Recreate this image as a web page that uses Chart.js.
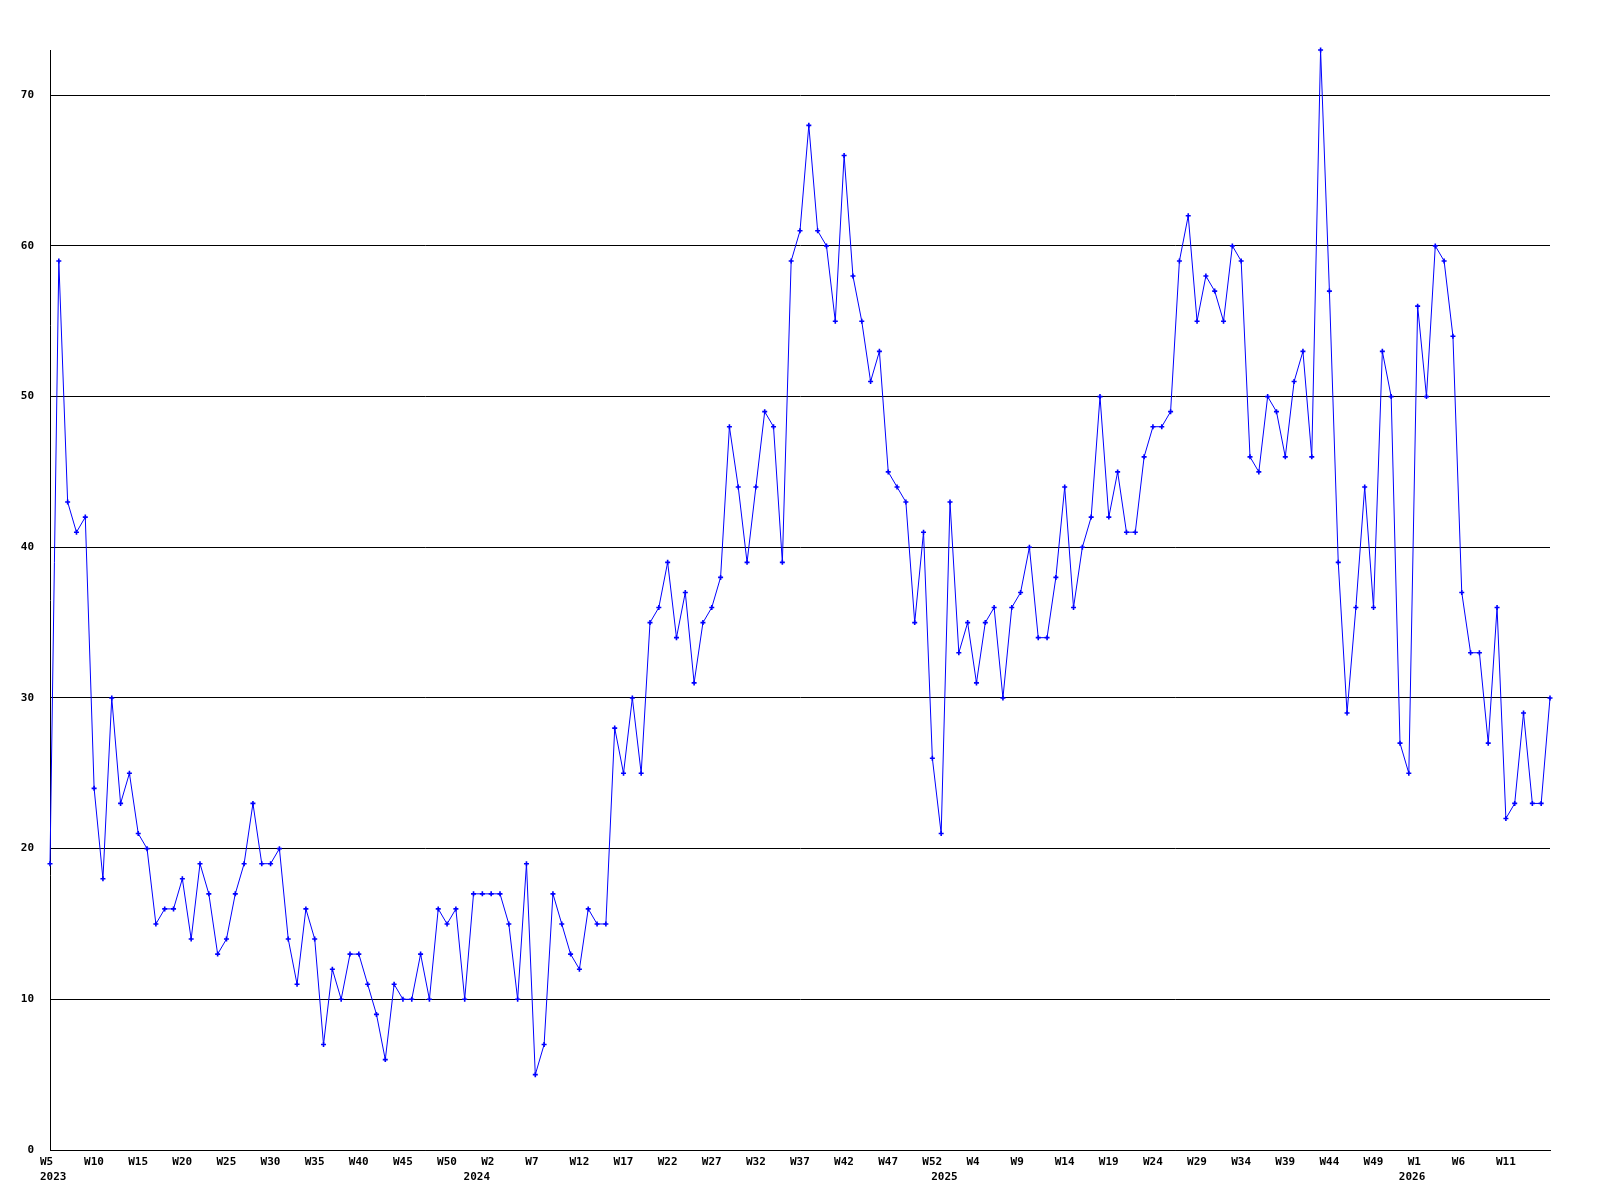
<!DOCTYPE html>
<html>
<head>
<meta charset="utf-8">
<script src="https://cdn.jsdelivr.net/npm/chart.js@4.4.1/dist/chart.umd.min.js"></script>
<style>
html,body{margin:0;padding:0;background:#ffffff;}
canvas{display:block;}
</style>
</head>
<body>
<canvas id="c" width="1600" height="1200"></canvas>
<script>
// Week segments per year (week numbering starts at W0 each new year)
const years = [2023, 2024, 2025, 2026];
const firstWeek = [5, 0, 0, 0];
const lastWeek = [52, 52, 52, 16];

// Weekly values
const values = [
  19,59,43,41,42,24,18,30,23,25,21,20,15,16,16,18,14,19,17,13,14,17,19,23,19,19,20,14,11,
  16,14,7,12,10,13,13,11,9,6,11,10,10,13,10,16,15,16,10,17,17,17,17,15,10,19,5,7,
  17,15,13,12,16,15,15,28,25,30,25,35,36,39,34,37,31,35,36,38,48,44,39,44,49,48,39,59,
  61,68,61,60,55,66,58,55,51,53,45,44,43,35,41,26,21,43,33,35,31,35,36,30,36,37,40,34,34,
  38,44,36,40,42,50,42,45,41,41,46,48,48,49,59,62,55,58,57,55,60,59,46,45,50,49,46,51,53,
  46,73,57,39,29,36,44,36,53,50,27,25,56,50,60,59,54,37,33,33,27,36,22,23,29,23,23,30
];

// Y tick values
const yTicks = [0, 10, 20, 30, 40, 50, 60, 70];
const yMax = 73;

// Build categories
const weekLabels = [];
const yearAtIndex = {};
years.forEach((y, i) => {
  yearAtIndex[weekLabels.length] = String(y);
  for (let w = firstWeek[i]; w <= lastWeek[i]; w++) weekLabels.push('W' + w);
});

const FONT = {family: '"DejaVu Sans Mono", monospace', size: 11, weight: 'bold', lineHeight: 1.32};

new Chart(document.getElementById('c'), {
  type: 'line',
  data: {
    labels: weekLabels,
    datasets: [{
      data: values,
      borderColor: '#0000ff',
      backgroundColor: '#0000ff',
      borderWidth: 1,
      tension: 0,
      fill: false,
      clip: false,
      pointStyle: 'cross',
      pointRadius: 2.5,
      pointBorderWidth: 1.6,
      pointBorderColor: '#0000ff',
      pointHoverRadius: 2.5
    }]
  },
  options: {
    responsive: false,
    animation: false,
    devicePixelRatio: 1,
    layout: {padding: {top: 50, right: 50, left: 0, bottom: 0}},
    plugins: {legend: {display: false}, tooltip: {enabled: false}},
    scales: {
      x: {
        type: 'category',
        offset: false,
        grid: {display: false, drawTicks: false},
        border: {display: true, color: '#000000', width: 1},
        afterFit: (s) => { s.height = 50; },
        ticks: {
          autoSkip: false,
          maxRotation: 0,
          minRotation: 0,
          align: 'start',
          labelOffset: -10,
          padding: 5,
          color: '#000000',
          font: FONT,
          callback: function(value, index) {
            const last = index === weekLabels.length - 1;
            const wk = (index % 5 === 0 && !last) ? weekLabels[index] : '';
            const yr = yearAtIndex[index];
            if (yr) return [wk, yr];
            return wk || null;
          }
        }
      },
      y: {
        min: 0,
        max: yMax,
        afterFit: (s) => { s.width = 50; },
        afterBuildTicks: (s) => { s.ticks = yTicks.map(v => ({value: v})); },
        grid: {color: '#000000', lineWidth: 1, drawTicks: false},
        border: {display: true, color: '#000000', width: 1},
        ticks: {
          includeBounds: false,
          stepSize: 10,
          padding: 16,
          color: '#000000',
          font: FONT
        }
      }
    }
  }
});
</script>
</body>
</html>
